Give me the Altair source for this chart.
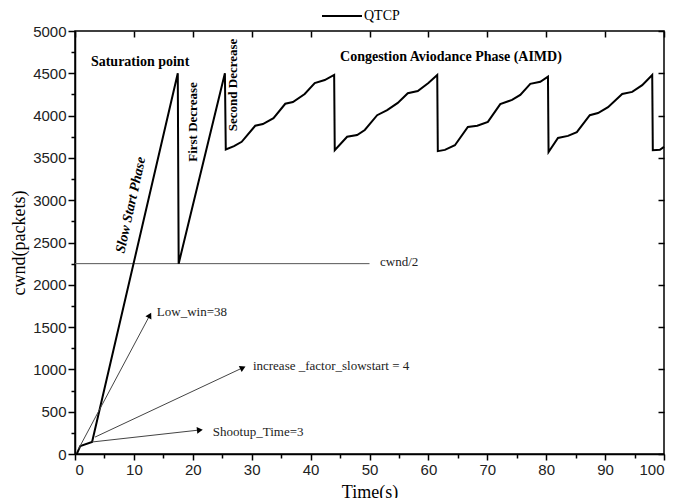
import math
import altair as alt
import pandas as pd

# ---- data ----
time_s = [0.3, 0.9, 2.9, 17.45, 17.6, 25.45, 25.6, 27.0, 28.3, 30.6, 31.9, 33.7, 35.7, 37.0, 39.0,
          40.7, 42.4, 44.0, 44.1, 46.2, 47.9, 49.2, 51.3, 53.0, 54.8, 56.5, 58.2, 60.0, 61.5,
          61.6, 62.8, 64.5, 66.7, 68.3, 70.1, 72.2, 74.2, 75.6, 77.3, 79.0, 80.3,
          80.4, 82.0, 83.7, 85.2, 87.4, 88.8, 90.5, 92.9, 94.6, 96.3, 98.0,
          98.1, 99.3, 100.0]
cwnd = [0, 95, 142, 4500, 2250, 4500, 3600, 3640, 3690, 3880, 3900, 3970, 4140, 4160, 4255,
        4385, 4420, 4480, 3590, 3750, 3770, 3830, 4005, 4065, 4150, 4265, 4290, 4385, 4480,
        3580, 3595, 3650, 3865, 3880, 3925, 4135, 4185, 4245, 4375, 4400, 4460,
        3570, 3735, 3760, 3805, 4005, 4030, 4100, 4255, 4280, 4360, 4480,
        3590, 3595, 3630]
series_name = "QTCP"

half_line_x = [0, 50]
half_line_y = 2250

arrow_names = ["Low_win=38", "increase _factor_slowstart = 4", "Shootup_Time=3"]
arrow_x0 = [0.6, 3.4, 2.9]
arrow_y0 = [60, 200, 142]
arrow_x1 = [12.7, 28.5, 21.2]
arrow_y1 = [1640, 1020, 284]
arrow_label_x = [13.9, 30.2, 23.4]
arrow_label_y = [1678, 1040, 262]

W, H = 589, 423
XMAX, YMAX = 100, 5000

serif = "Liberation Serif"
sans = "Liberation Sans"

main_df = pd.DataFrame({"t": time_s, "cwnd": cwnd, "series": series_name})
half_df = pd.DataFrame({"x": [half_line_x[0]], "x2": [half_line_x[1]], "y": [half_line_y]})

angles = []
for x0, y0, x1, y1 in zip(arrow_x0, arrow_y0, arrow_x1, arrow_y1):
    dx = (x1 - x0) * W / XMAX
    dy = (y1 - y0) * H / YMAX
    angles.append((-math.degrees(math.atan2(dy, dx))) % 360)
arrow_df = pd.DataFrame({"x0": arrow_x0, "y0": arrow_y0, "x1": arrow_x1, "y1": arrow_y1,
                         "ang": angles, "label": arrow_names,
                         "lx": arrow_label_x, "ly": arrow_label_y})

xscale = alt.Scale(domain=[0, XMAX], nice=False, zero=False)
yscale = alt.Scale(domain=[0, YMAX], nice=False, zero=False)

x_axis = alt.Axis(
    values=list(range(0, 101, 5)), format="d",
    labelExpr="datum.value % 10 == 0 ? datum.label : ''",
    tickSize={"condition": {"test": "datum.value % 10 != 0", "value": 4}, "value": 6},
    tickColor="black", tickWidth=1.5, domainColor="black", domainWidth=1.5,
    labelFont=sans, labelFontSize=15, labelColor="#222", labelPadding=2,
    grid=False, title="Time(s)", titleFont=serif, titleFontSize=18,
    titleFontWeight="normal", titleColor="black", titlePadding=6,
)
y_axis = alt.Axis(
    values=list(range(0, 5001, 250)), format="d",
    labelExpr="datum.value % 500 == 0 ? datum.label : ''",
    tickSize={"condition": {"test": "datum.value % 500 != 0", "value": 4}, "value": 7},
    tickColor="black", tickWidth=1.5, domainColor="black", domainWidth=1.5,
    labelFont=sans, labelFontSize=15, labelColor="#222", labelPadding=2,
    grid=False, title="cwnd(packets)", titleFont=serif, titleFontSize=18,
    titleFontWeight="normal", titleColor="black", titlePadding=4,
)

line = alt.Chart(main_df).mark_line(strokeWidth=2).encode(
    x=alt.X("t:Q", scale=xscale, axis=x_axis),
    y=alt.Y("cwnd:Q", scale=yscale, axis=y_axis),
    color=alt.Color("series:N", scale=alt.Scale(range=["black"]),
                    legend=alt.Legend(title=None, orient="none", legendX=246, legendY=-36,
                                      symbolType="stroke", symbolSize=1600, symbolStrokeWidth=2,
                                      labelFont=serif, labelFontSize=14, labelColor="black",
                                      labelOffset=1)),
)

half = alt.Chart(half_df).mark_rule(color="#555", strokeWidth=1).encode(
    x=alt.X("x:Q", scale=xscale,
            axis=alt.Axis(orient="top", values=list(range(0, 101, 10)), labels=False,
                          domain=False, ticks=True, tickSize=6, offset=-6, tickColor="black",
                          tickWidth=1.5, grid=False, title=None)),
    x2="x2:Q",
    y=alt.Y("y:Q", scale=yscale,
            axis=alt.Axis(orient="right", values=list(range(0, 5001, 500)), labels=False,
                          domain=False, ticks=True, tickSize=6, offset=-6, tickColor="black",
                          tickWidth=1.5, grid=False, title=None)),
)

arrow_lines = alt.Chart(arrow_df).mark_rule(color="#444", strokeWidth=1).encode(
    x=alt.X("x0:Q", scale=xscale, axis=None),
    y=alt.Y("y0:Q", scale=yscale, axis=None),
    x2="x1:Q", y2="y1:Q",
)
arrow_heads = alt.Chart(arrow_df).mark_point(shape="triangle-right", filled=True, color="black",
                                             size=45, opacity=1).encode(
    x=alt.X("x1:Q", scale=xscale, axis=None),
    y=alt.Y("y1:Q", scale=yscale, axis=None),
    angle=alt.Angle("ang:Q", scale=None),
)
arrow_labels = alt.Chart(arrow_df).mark_text(align="left", baseline="middle", font=serif,
                                             fontSize=13, color="#222").encode(
    x=alt.X("lx:Q", scale=xscale, axis=None),
    y=alt.Y("ly:Q", scale=yscale, axis=None),
    text="label:N",
)

notes_df = pd.DataFrame({
    "text": ["Saturation point", "Congestion Aviodance Phase (AIMD)", "cwnd/2"],
    "x": [2.7, 45.0, 51.8],
    "y": [4634, 4693, 2270],
})
notes_bold = alt.Chart(notes_df.iloc[:2]).mark_text(align="left", baseline="middle", font=serif,
                                                   fontSize=14, fontWeight="bold",
                                                   color="black").encode(
    x=alt.X("x:Q", scale=xscale, axis=None),
    y=alt.Y("y:Q", scale=yscale, axis=None),
    text="text:N",
)
notes_plain = alt.Chart(notes_df.iloc[2:]).mark_text(align="left", baseline="middle", font=serif,
                                                    fontSize=13, color="#222").encode(
    x=alt.X("x:Q", scale=xscale, axis=None),
    y=alt.Y("y:Q", scale=yscale, axis=None),
    text="text:N",
)

vert_df = pd.DataFrame({"text": ["First Decrease", "Second Decrease"],
                        "x": [20.0, 26.8], "y": [3924, 4362]})
vert = alt.Chart(vert_df).mark_text(align="center", baseline="middle", angle=270, font=serif,
                                    fontSize=13, fontWeight="bold", color="black").encode(
    x=alt.X("x:Q", scale=xscale, axis=None),
    y=alt.Y("y:Q", scale=yscale, axis=None),
    text="text:N",
)

slow_df = pd.DataFrame({"text": ["Slow Start Phase"], "x": [9.5], "y": [2943]})
slow = alt.Chart(slow_df).mark_text(align="center", baseline="middle", angle=282.5, font=serif,
                                    fontSize=14, fontWeight="bold", fontStyle="italic",
                                    color="black").encode(
    x=alt.X("x:Q", scale=xscale, axis=None),
    y=alt.Y("y:Q", scale=yscale, axis=None),
    text="text:N",
)

chart = alt.layer(
    half, line, arrow_lines, arrow_heads, arrow_labels, notes_bold, notes_plain, vert, slow
).resolve_axis(x="independent", y="independent").properties(
    width=W, height=H,
    autosize=alt.AutoSizeParams(type="none"),
    padding={"left": 67, "top": 23, "right": 7, "bottom": 50},
    background="white",
).configure_view(stroke="black", strokeWidth=1.5)

chart.save("out.html", embed_options={"renderer": "svg", "actions": False})
